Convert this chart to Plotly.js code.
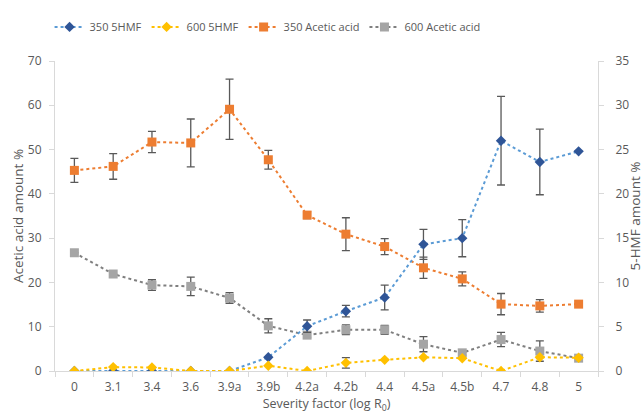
<!DOCTYPE html>
<html>
<head>
<meta charset="utf-8">
<script src="https://cdn.plot.ly/plotly-3.0.1.min.js"></script>
<style>html,body{margin:0;padding:0;background:#fff;}#chart{width:644px;height:414px;}</style>
</head>
<body>
<div id="chart"></div>
<script>
var categories = ["0","3.1","3.4","3.6","3.9a","3.9b","4.2a","4.2b","4.4","4.5a","4.5b","4.7","4.8","5"];

var hmf350 = [0, 0, 0, 0, 0, 1.55, 5.06, 6.75, 8.3, 14.3, 15.0, 26.0, 23.6, 24.8];
var hmf350Err = [0, 0, 0, 0, 0, 0, 0.7, 0.65, 1.4, 1.7, 2.1, 5.0, 3.7, 0];

var hmf600 = [0, 0.44, 0.4, 0, 0, 0.6, 0, 0.92, 1.26, 1.55, 1.44, 0, 1.55, 1.5];
var hmf600Err = [0, 0, 0, 0, 0, 0, 0, 0.6, 0, 0, 0, 0, 0, 0];

var acetic350 = [45.3, 46.2, 51.7, 51.5, 59.1, 47.7, 35.2, 30.9, 28.1, 23.3, 20.8, 15.1, 14.7, 15.1];
var acetic350Err = [2.7, 2.9, 2.4, 5.4, 6.8, 2.1, 0.8, 3.7, 1.8, 2.4, 1.6, 2.4, 1.4, 0];

var acetic600 = [26.7, 21.9, 19.4, 19.1, 16.5, 10.2, 8.1, 9.3, 9.3, 6.05, 4.1, 7.1, 4.5, 2.9];
var acetic600Err = [0, 0, 1.2, 2.1, 1.2, 1.6, 0.5, 1.1, 1.0, 1.7, 0.5, 1.6, 2.3, 0];

function errBar(arr) {
  return {type: 'data', array: arr, visible: true, color: '#595959', thickness: 1.3, width: 4};
}

var traces = [
  {name: '350 5HMF', x: categories, y: hmf350, yaxis: 'y2', type: 'scatter', mode: 'lines+markers',
   line: {color: '#5B9BD5', width: 2, dash: 'dot'},
   marker: {symbol: 'diamond', size: 8, color: '#2F5597'}, error_y: errBar(hmf350Err)},
  {name: '600 5HMF', x: categories, y: hmf600, yaxis: 'y2', type: 'scatter', mode: 'lines+markers',
   line: {color: '#FFC000', width: 2, dash: 'dot'},
   marker: {symbol: 'diamond', size: 8, color: '#FFC000'}, error_y: errBar(hmf600Err)},
  {name: '350 Acetic acid', x: categories, y: acetic350, yaxis: 'y', type: 'scatter', mode: 'lines+markers',
   line: {color: '#ED7D31', width: 2, dash: 'dot'},
   marker: {symbol: 'square', size: 9, color: '#ED7D31'}, error_y: errBar(acetic350Err)},
  {name: '600 Acetic acid', x: categories, y: acetic600, yaxis: 'y', type: 'scatter', mode: 'lines+markers',
   line: {color: '#7F7F7F', width: 2, dash: 'dot'},
   marker: {symbol: 'square', size: 9, color: '#A5A5A5'}, error_y: errBar(acetic600Err)}
];

var fam = 'Open Sans, sans-serif';
var tickFont = {family: fam, size: 12, color: '#595959'};
var titleFont = {family: fam, size: 13.5, color: '#595959'};

var layout = {
  width: 644, height: 414,
  margin: {l: 55, r: 46, t: 55, b: 43},
  paper_bgcolor: '#fff', plot_bgcolor: '#fff',
  showlegend: true,
  legend: {orientation: 'h', x: -0.01, xanchor: 'left', y: 1.11, yanchor: 'middle',
           itemwidth: 30, tracegroupgap: 0,
           font: {family: fam, size: 11, color: '#595959'}},
  xaxis: {type: 'category', range: [-0.5, 13.5], showgrid: false, zeroline: false,
          showline: true, linecolor: '#D9D9D9', linewidth: 1,
          ticks: 'outside', tickson: 'boundaries', ticklen: 5, tickcolor: '#D9D9D9',
          tickfont: tickFont, ticklabelstandoff: 5,
          title: {text: 'Severity factor (log R<sub>0</sub>)', font: {family: fam, size: 12.5, color: '#595959'}, standoff: 9}},
  yaxis: {range: [0, 70], dtick: 10, showgrid: false, zeroline: false,
          showline: true, linecolor: '#D9D9D9', linewidth: 1,
          ticks: 'outside', ticklen: 5, tickcolor: '#D9D9D9', tickfont: tickFont,
          ticklabelstandoff: 5,
          title: {text: 'Acetic acid amount %', font: titleFont, standoff: 1}},
  yaxis2: {range: [0, 35], dtick: 5, overlaying: 'y', side: 'right', showgrid: false, zeroline: false,
           showline: true, linecolor: '#D9D9D9', linewidth: 1,
           ticks: 'outside', ticklen: 5, tickcolor: '#D9D9D9', tickfont: tickFont,
           ticklabelstandoff: 9,
           title: {text: '5-HMF amount %', font: titleFont, standoff: 4}}
};

Plotly.newPlot('chart', traces, layout, {displayModeBar: false, staticPlot: true});
</script>
</body>
</html>
